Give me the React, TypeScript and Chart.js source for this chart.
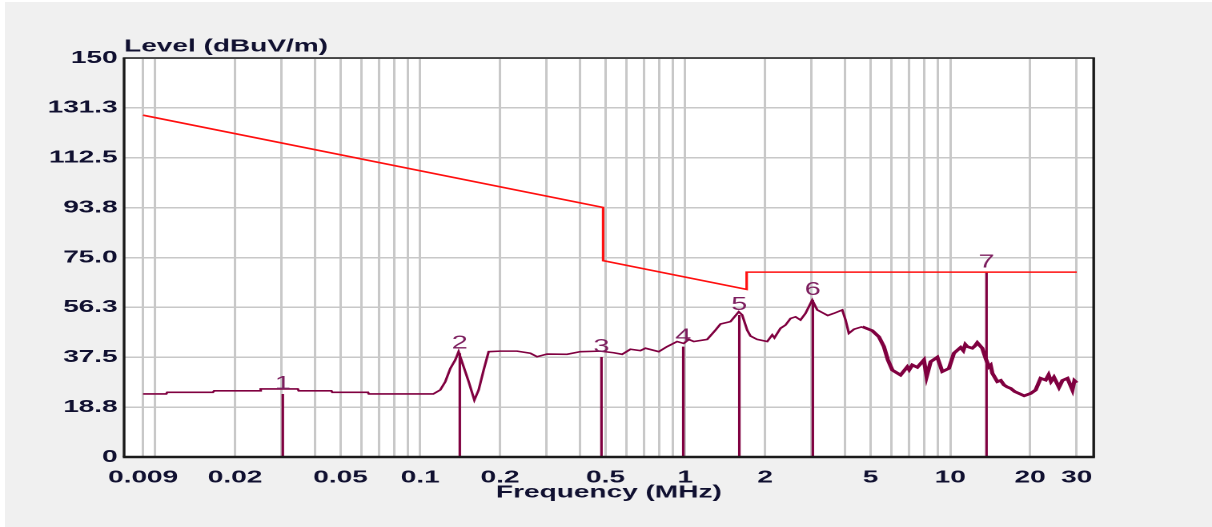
import React, { useEffect, useRef } from 'react';
import { Chart, registerables } from 'chart.js';

Chart.register(...registerables);

// ---------- data ----------
const xGridValues = [
  0.009, 0.01, 0.02, 0.03, 0.04, 0.05, 0.06, 0.07, 0.08, 0.09,
  0.1, 0.2, 0.3, 0.4, 0.5, 0.6, 0.7, 0.8, 0.9,
  1, 2, 3, 4, 5, 6, 7, 8, 9,
  10, 20, 30,
];
const xLabelValues = [0.009, 0.02, 0.05, 0.1, 0.2, 0.5, 1, 2, 5, 10, 20, 30];
const xLabelTexts = ['0.009', '0.02', '0.05', '0.1', '0.2', '0.5', '1', '2', '5', '10', '20', '30'];

const yTickValues = [0, 18.75, 37.5, 56.25, 75, 93.75, 112.5, 131.25, 150];
const yTickLabels = ['0', '18.8', '37.5', '56.3', '75.0', '93.8', '112.5', '131.3', '150'];

const limitFreq = [0.009, 0.49, 0.49, 1.705, 1.705, 30];
const limitLevel = [128.5, 93.8, 73.8, 63.0, 69.5, 69.5];

const traceFreq = [
  0.009, 0.011, 0.0111, 0.0165, 0.0167, 0.0248, 0.025, 0.0345, 0.0348, 0.0462,
  0.0466, 0.0635, 0.064, 0.112, 0.119, 0.1243, 0.1299, 0.1356, 0.1395, 0.1458,
  0.1523, 0.16, 0.1661, 0.1735, 0.1812, 0.2006, 0.2318, 0.2603, 0.2759, 0.301,
  0.3581, 0.402, 0.4783, 0.537, 0.5776, 0.6209, 0.6773, 0.7074, 0.7942, 0.8544,
  0.9319, 0.987, 1.031, 1.077, 1.21, 1.3, 1.358, 1.481, 1.592, 1.64,
  1.713, 1.763, 1.868, 2.038, 2.129, 2.17, 2.288, 2.389, 2.496, 2.607,
  2.722, 2.843, 3.014, 3.148, 3.288, 3.45, 3.637, 3.912, 4.026, 4.143,
  4.327, 4.655, 5.079, 5.379, 5.618, 5.817, 6.044, 6.494, 6.884, 7.0,
  7.19, 7.51, 7.953, 8.142, 8.43, 8.935, 9.332, 9.883, 10.32, 10.94,
  11.2, 11.4, 11.6, 12.11, 12.4, 12.65, 13.21, 13.6, 13.99, 14.2,
  14.41, 15.05, 15.5, 15.94, 16.4, 16.9, 17.5, 18.16, 19.0, 20.11,
  21.0, 21.93, 22.91, 23.5, 24.0, 24.62, 25.72, 26.5, 27.67, 28.9,
  29.4, 30,
];
const traceLevel = [
  23.7, 23.7, 24.3, 24.3, 24.9, 24.9, 25.6, 25.6, 24.9, 24.9,
  24.3, 24.3, 23.7, 23.7, 25.2, 28.3, 33.3, 36.5, 39.6, 33.9,
  28.3, 21.4, 25.2, 32.7, 39.6, 39.8, 39.8, 39.0, 37.7, 38.7,
  38.6, 39.6, 39.8, 39.2, 38.6, 40.5, 40.0, 40.9, 39.6, 41.5,
  43.4, 42.7, 44.2, 43.4, 44.2, 47.7, 50.0, 50.9, 54.6, 53.4,
  47.7, 45.5, 44.2, 43.4, 45.9, 44.8, 48.4, 49.6, 52.1, 52.7,
  51.5, 54.0, 59.0, 55.3, 54.3, 53.2, 54.0, 55.3, 51.5, 46.5,
  48.0, 49.0, 47.5, 45.2, 41.5, 36.5, 32.7, 30.8, 33.9, 32.8,
  34.6, 33.7, 36.5, 30.2, 35.8, 37.5, 32.1, 33.3, 39.0, 41.2,
  40.0, 42.3, 41.5, 40.9, 41.8, 43.0, 40.9, 37.1, 33.9, 34.5,
  31.5, 28.3, 28.8, 27.1, 26.3, 25.8, 24.6, 23.9, 23.0, 23.9,
  25.2, 29.6, 28.9, 30.9, 28.4, 30.0, 26.2, 28.8, 29.6, 25.2,
  28.7, 27.9,
];

const markerFreq = [0.0303, 0.141, 0.483, 0.983, 1.6, 3.03, 13.7];
const markerLevel = [23.7, 39.0, 37.6, 41.5, 53.4, 59.0, 69.3];
const markerNames = ['1', '2', '3', '4', '5', '6', '7'];

// ---------- styles ----------
const SX = 1.6;
const TEXT = '#101030';
const FONT = '"Liberation Sans", Arial, sans-serif';
const TRACE = '#800040';
const LIMIT = '#ff1010';
const GRID = '#c8c8c8';

const chromePlugin = {
  id: 'chrome',
  beforeDraw(chart: any) {
    const { ctx, chartArea: a } = chart;
    ctx.save();
    ctx.fillStyle = '#ffffff';
    ctx.fillRect(a.left, a.top, a.right - a.left, a.bottom - a.top);
    ctx.restore();
  },
  afterDatasetsDraw(chart: any) {
    const { ctx, scales } = chart;
    ctx.save();
    ctx.fillStyle = '#7d1f5f';
    ctx.font = `18px ${FONT}`;
    ctx.textAlign = 'center';
    ctx.textBaseline = 'alphabetic';
    markerFreq.forEach((f, i) => {
      const x = scales.x.getPixelForValue(f);
      const y = scales.y.getPixelForValue(markerLevel[i]);
      ctx.fillText(markerNames[i], x, y - 5);
    });
    ctx.restore();
  },
  afterDraw(chart: any) {
    const { ctx, chartArea: a } = chart;
    ctx.save();
    ctx.strokeStyle = '#1a1a1a';
    const seg = (x1: number, y1: number, x2: number, y2: number, w: number) => {
      ctx.lineWidth = w;
      ctx.beginPath();
      ctx.moveTo(x1, y1);
      ctx.lineTo(x2, y2);
      ctx.stroke();
    };
    seg(a.left - 0.8, a.top, a.right + 0.8, a.top, 1.5);
    seg(a.left - 0.8, a.bottom, a.right + 0.8, a.bottom, 2.5);
    seg(a.left, a.top, a.left, a.bottom, 1.7);
    seg(a.right, a.top, a.right, a.bottom, 1.7);
    ctx.fillStyle = TEXT;
    ctx.font = `bold 17.5px ${FONT}`;
    ctx.textAlign = 'left';
    ctx.textBaseline = 'alphabetic';
    ctx.fillText('Level (dBuV/m)', a.left, a.top - 6.5);
    ctx.restore();
  },
};

export default function App() {
  const canvasRef = useRef<HTMLCanvasElement | null>(null);

  useEffect(() => {
    if (!canvasRef.current) return;
    const limitData = limitFreq.map((f, i) => ({ x: f, y: limitLevel[i] }));
    const traceData = traceFreq.map((f, i) => ({ x: f, y: traceLevel[i] }));
    const markerSets = markerFreq.map((f, i) => ({
      label: 'Marker ' + markerNames[i],
      data: [{ x: f, y: 0 }, { x: f, y: markerLevel[i] }],
      borderColor: TRACE,
      borderWidth: 1.6,
      pointRadius: 0,
      tension: 0,
    }));

    const chart = new Chart(canvasRef.current, {
      type: 'line',
      data: {
        datasets: [
          {
            label: 'Limit',
            data: limitData,
            borderColor: LIMIT,
            borderWidth: 1.6,
            pointRadius: 0,
            tension: 0,
          },
          {
            label: 'Level',
            data: traceData,
            borderColor: TRACE,
            borderWidth: 1.6,
            pointRadius: 0,
            tension: 0,
            segment: {
              borderWidth: (c: any) => (c.p0.parsed.x > 4.5 ? 2.6 : 1.6),
            },
          },
          ...markerSets,
        ],
      },
      options: {
        animation: false,
        responsive: true,
        maintainAspectRatio: false,
        devicePixelRatio: 2,
        layout: { padding: { left: 0, right: 74.4, top: 58, bottom: 0 } },
        plugins: {
          legend: { display: false },
          tooltip: { enabled: false },
          title: { display: false },
        },
        scales: {
          x: {
            type: 'logarithmic',
            min: 0.00763,
            max: 34.77,
            afterBuildTicks: (scale: any) => {
              scale.ticks = xGridValues.map((v) => ({ value: v }));
            },
            afterFit: (scale: any) => {
              scale.height = 70;
            },
            grid: { color: GRID, lineWidth: 1.5, drawTicks: false },
            border: { display: false },
            ticks: {
              autoSkip: false,
              maxRotation: 0,
              minRotation: 0,
              padding: 10,
              color: TEXT,
              font: { family: FONT, size: 17.5, weight: 'bold' },
              callback: (value: any) => {
                const v = Number(value);
                const i = xLabelValues.findIndex((t) => Math.abs(t - v) / t < 1e-6);
                return i >= 0 ? xLabelTexts[i] : '';
              },
            },
            title: {
              display: true,
              text: 'Frequency (MHz)',
              color: TEXT,
              font: { family: FONT, size: 17.5, weight: 'bold' },
              padding: { top: 0, bottom: 24 },
            },
          },
          y: {
            type: 'linear',
            min: 0,
            max: 150,
            afterBuildTicks: (scale: any) => {
              scale.ticks = yTickValues.map((v) => ({ value: v }));
            },
            afterFit: (scale: any) => {
              scale.width = 77.5;
            },
            grid: { color: GRID, lineWidth: 1.5, drawTicks: false },
            border: { display: false },
            ticks: {
              padding: 4,
              color: TEXT,
              font: { family: FONT, size: 17.5, weight: 'bold' },
              callback: (value: any) => {
                const i = yTickValues.findIndex((t) => Math.abs(t - Number(value)) < 1e-6);
                return i >= 0 ? yTickLabels[i] : '';
              },
            },
          },
        },
      },
      plugins: [chromePlugin],
    } as any);

    return () => chart.destroy();
  }, []);

  return (
    <div
      style={{
        position: 'fixed',
        left: 0,
        top: 0,
        width: 1212,
        height: 527,
        background: '#ffffff',
        overflow: 'hidden',
      }}
    >
      <div style={{ position: 'absolute', left: 5, top: 2, right: 0, bottom: 0, background: '#f0f0f0' }} />
      <div
        style={{
          position: 'absolute',
          left: 0,
          top: 0,
          width: 1212 / SX,
          height: 527,
          transform: `scaleX(${SX})`,
          transformOrigin: '0 0',
        }}
      >
        <canvas ref={canvasRef} />
      </div>
    </div>
  );
}
